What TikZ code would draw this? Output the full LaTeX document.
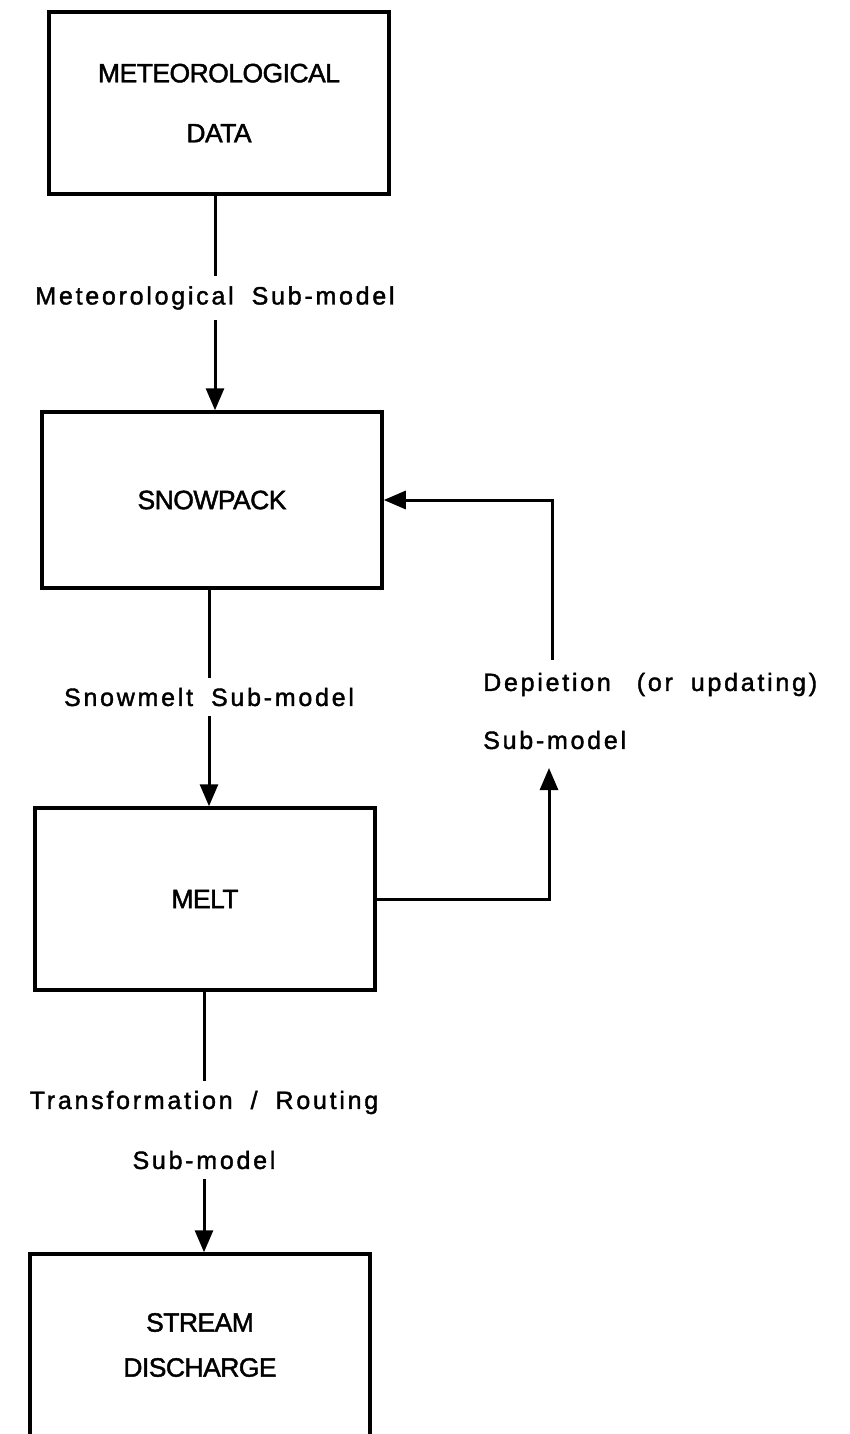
\documentclass[tikz,border=0pt]{standalone}
\usepackage{fontspec}
\setmainfont{Liberation Sans}[FakeBold=1.2]
\newfontfamily\boxfont[FakeBold=1.6, LetterSpace=-2]{Liberation Sans}
\newfontfamily\spacedfont[FakeBold=1.6, LetterSpace=11]{Liberation Sans}
\usetikzlibrary{arrows.meta, positioning}
\newcommand{\wgap}{\hspace{18pt}}
\tikzset{
  arrowK/.style={-{Triangle[length=22pt,width=18pt]}, line width=3pt},
  lineK/.style={line width=3pt},
  blockBox/.style={rectangle, draw=black, line width=3.5pt, minimum width=340pt,
                   align=center, font=\boxfont\fontsize{26.5}{30}\selectfont, inner sep=0pt},
  subLbl/.style={font=\spacedfont\fontsize{25}{30}\selectfont, inner sep=10pt},
}

\begin{document}
\begin{tikzpicture}[x=1pt, y=-1pt]
    \useasboundingbox (0,0) rectangle (849,1434);
    \node[blockBox, minimum height=182pt] (met) at (219,103) {METEOROLOGICAL\\[30pt]DATA};
    \node[blockBox, minimum height=176pt] (snow) at (212,500) {SNOWPACK};
    \node[blockBox, minimum height=182pt] (melt) at (205,899) {MELT};
    \node[blockBox, minimum height=182pt] (stream) at (200,1345) {STREAM\\[15pt]DISCHARGE};
    \node[subLbl] (l1) at (215,298) {Meteorological\wgap Sub-model};
    \node[subLbl] (l2) at (209,697) {Snowmelt\wgap Sub-model};
    \node[subLbl, align=center] (l3) at (204,1130) {Transformation\wgap/\wgap Routing\\[30pt]Sub-model};
    \node[subLbl, align=left, anchor=west] (l4) at (473,711) {Depietion\hspace{26pt}(or\wgap updating)\\[28pt]Sub-model};
    \coordinate (fbBot) at (549,768);
    \coordinate (fbTop) at (552,660);
    \draw[lineK] (met.south -| l1.north) -- (l1.north);
    \draw[arrowK] (l1.south) -- (l1.south |- snow.north);
    \draw[lineK] (snow.south -| l2.north) -- (l2.north);
    \draw[arrowK] (l2.south) -- (l2.south |- melt.north);
    \draw[lineK] (melt.south -| l3.north) -- (l3.north);
    \draw[arrowK] (l3.south) -- (l3.south |- stream.north);
    \draw[arrowK] (melt.east) -| (fbBot);
    \draw[arrowK] (fbTop) |- (snow.east);
\end{tikzpicture}
\end{document}
